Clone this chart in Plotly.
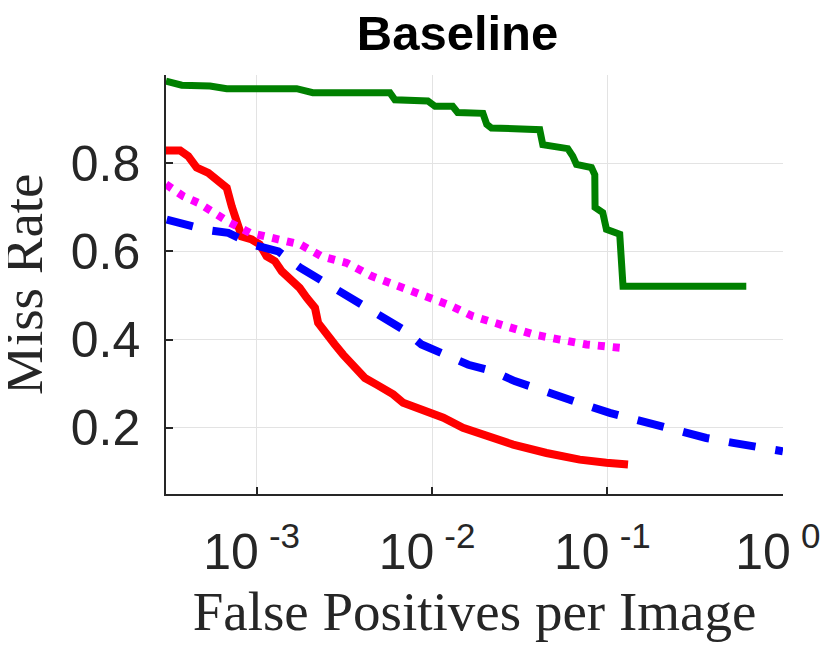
import plotly.graph_objects as go

# Miss rate vs. FPPI curves
green_fppi = [3.04e-4, 3.74e-4, 5.42e-4, 6.75e-4, 1.69e-3, 2.09e-3, 5.75e-3, 6.14e-3,
              9.46e-3, 1.04e-2, 1.31e-2, 1.40e-2, 1.95e-2, 2.05e-2, 2.18e-2, 4.11e-2,
              4.28e-2, 5.94e-2, 6.34e-2, 6.66e-2, 8.11e-2, 8.47e-2, 8.50e-2, 9.40e-2,
              9.87e-2, 0.1175, 0.1227, 0.619]
green_miss = [0.986, 0.977, 0.975, 0.969, 0.969, 0.960, 0.960, 0.944,
              0.941, 0.929, 0.929, 0.915, 0.913, 0.888, 0.880, 0.876,
              0.842, 0.833, 0.816, 0.797, 0.790, 0.774, 0.700, 0.688,
              0.650, 0.639, 0.521, 0.521]

red_fppi = [3.04e-4, 3.66e-4, 4.07e-4, 4.55e-4, 5.30e-4, 5.92e-4, 6.75e-4, 7.21e-4,
            7.69e-4, 8.22e-4, 9.38e-4, 1.04e-3, 1.14e-3, 1.27e-3, 1.39e-3, 1.55e-3,
            1.76e-3, 1.93e-3, 2.15e-3, 2.24e-3, 2.45e-3, 2.79e-3, 3.11e-3, 3.40e-3,
            3.79e-3, 4.14e-3, 4.83e-3, 6.00e-3, 6.84e-3, 8.17e-3, 9.70e-3, 1.16e-2,
            1.50e-2, 1.95e-2, 2.43e-2, 2.90e-2, 4.49e-2, 6.95e-2, 9.86e-2, 0.131]
red_miss = [0.829, 0.829, 0.816, 0.790, 0.778, 0.763, 0.744, 0.702,
            0.665, 0.634, 0.627, 0.616, 0.589, 0.578, 0.555, 0.540,
            0.517, 0.495, 0.472, 0.438, 0.415, 0.389, 0.366, 0.351,
            0.332, 0.313, 0.298, 0.276, 0.257, 0.245, 0.234, 0.223,
            0.200, 0.185, 0.170, 0.162, 0.143, 0.128, 0.121, 0.117]

blue_fppi = [3.07e-4, 3.66e-4, 5.30e-4, 6.89e-4, 9.75e-4, 1.33e-3, 1.77e-3, 2.30e-3,
             3.05e-3, 3.87e-3, 5.15e-3, 6.84e-3, 8.71e-3, 1.18e-2, 1.61e-2, 2.23e-2,
             2.96e-2, 4.11e-2, 5.47e-2, 7.59e-2, 0.103, 0.143, 0.194, 0.270,
             0.366, 0.520, 0.706, 1.0]
blue_miss = [0.672, 0.663, 0.648, 0.642, 0.614, 0.600, 0.563, 0.536,
             0.506, 0.482, 0.449, 0.423, 0.389, 0.366, 0.343, 0.328,
             0.306, 0.287, 0.268, 0.251, 0.234, 0.219, 0.204, 0.189,
             0.177, 0.166, 0.155, 0.147]

magenta_fppi = [3.04e-4, 3.82e-4, 4.65e-4, 6.04e-4, 7.05e-4, 9.16e-4, 1.27e-3, 1.77e-3,
                2.34e-3, 3.26e-3, 4.52e-3, 6.55e-3, 9.31e-3, 1.26e-2, 1.71e-2, 2.65e-2,
                3.77e-2, 5.35e-2, 7.59e-2, 0.120]
magenta_miss = [0.752, 0.725, 0.710, 0.680, 0.665, 0.642, 0.627, 0.616,
                0.589, 0.574, 0.544, 0.521, 0.498, 0.478, 0.453, 0.430,
                0.412, 0.400, 0.389, 0.381]

x_ticks = [1e-3, 1e-2, 1e-1, 1e0]
x_ticklabels = ["10\u2009<sup>-3</sup>\u2009", "10\u2009<sup>-2</sup>\u2009",
                "10\u2009<sup>-1</sup>\u2009", "10\u2009<sup>0</sup>\u2009"]
y_ticks = [0.2, 0.4, 0.6, 0.8]
y_ticklabels = ["0.2", "0.4", "0.6", "0.8"]

AX = "#262626"
GRID = "#e3e3e3"

fig = go.Figure()
fig.add_trace(go.Scatter(x=green_fppi, y=green_miss, mode="lines",
                         line=dict(color="#008000", width=7)))
fig.add_trace(go.Scatter(x=red_fppi, y=red_miss, mode="lines",
                         line=dict(color="#ff0000", width=8)))
fig.add_trace(go.Scatter(x=blue_fppi, y=blue_miss, mode="lines",
                         line=dict(color="#0000ff", width=8, dash="27px,20px")))
fig.add_trace(go.Scatter(x=magenta_fppi, y=magenta_miss, mode="lines",
                         line=dict(color="#ff00ff", width=8, dash="7px,8px")))

# page body has an 8px margin, so the figure is sized to fit inside the window
fig.update_layout(
    width=822, height=641,
    margin=dict(l=158, r=47, t=67, b=155),
    paper_bgcolor="white", plot_bgcolor="white",
    showlegend=False,
    title=dict(text="<b>Baseline</b>", x=0.4725, xref="paper", xanchor="center",
               y=0.934, yref="container", yanchor="bottom",
               font=dict(family="Liberation Sans, Arial", size=49, color="black")),
)

# y title as an annotation so it can sit closer to the left edge than the margin allows
fig.add_annotation(
    text="Miss Rate", textangle=-90, showarrow=False,
    xref="paper", yref="paper", x=0, y=0.5, xanchor="right", yanchor="middle",
    xshift=-110,
    font=dict(family="Liberation Serif, Times New Roman", size=55, color=AX),
)

fig.update_xaxes(
    type="log", range=[-3.517, 0.001], automargin=False,
    tickvals=x_ticks, ticktext=x_ticklabels, ticklabeloverflow="allow",
    tickfont=dict(family="Liberation Sans, Arial", size=50, color=AX),
    ticks="inside", ticklen=7, tickwidth=1.5, tickcolor=AX,
    showline=True, linecolor=AX, linewidth=1.5, mirror=False,
    showgrid=True, gridcolor=GRID, gridwidth=1, zeroline=False,
    ticklabelstandoff=13,
    title=dict(text="False Positives per Image", standoff=13,
               font=dict(family="Liberation Serif, Times New Roman", size=55, color=AX)),
)
fig.update_yaxes(
    range=[0.05, 1.0], automargin=False,
    tickvals=y_ticks, ticktext=y_ticklabels,
    tickfont=dict(family="Liberation Sans, Arial", size=50, color=AX),
    ticks="inside", ticklen=7, tickwidth=1.5, tickcolor=AX,
    showline=True, linecolor=AX, linewidth=1.5, mirror=False,
    showgrid=True, gridcolor=GRID, gridwidth=1, zeroline=False,
    ticklabelstandoff=14,
)

fig.write_html("out.html")
